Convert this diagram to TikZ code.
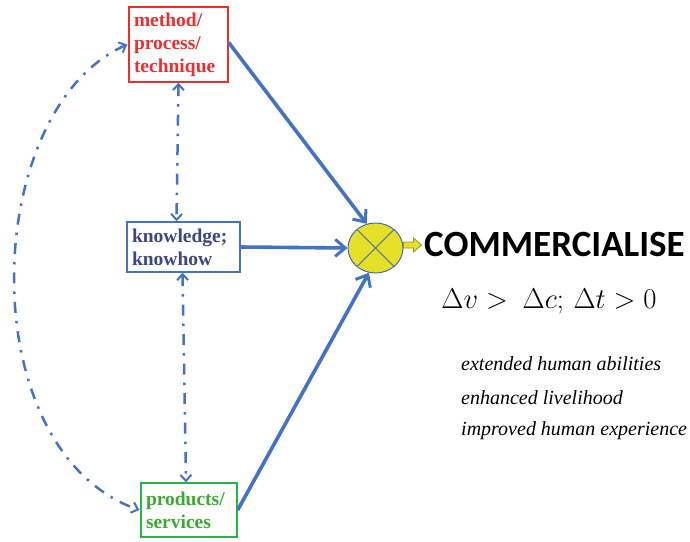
\documentclass[tikz,border=0pt]{standalone}
\usepackage{fontspec}
\setmainfont{Liberation Serif}
\newfontfamily\headfont{Carlito}
\usetikzlibrary{arrows.meta,shapes.geometric,calc}
\definecolor{linkblue}{RGB}{68,114,196}
\definecolor{boxred}{RGB}{232,48,48}
\definecolor{boxgreen}{RGB}{40,180,70}
\definecolor{textgreen}{RGB}{60,170,50}
\definecolor{textblue}{RGB}{60,70,130}
\definecolor{ballyellow}{RGB}{230,225,40}
\definecolor{ballline}{RGB}{70,110,170}
\definecolor{arrowline}{RGB}{150,150,30}
\begin{document}
\begin{tikzpicture}[x=1pt,y=-1pt,
  item/.style={draw,line width=1.4pt,align=left,font=\bfseries\fontsize{19.5}{23}\selectfont,inner xsep=5pt,inner ysep=3pt},
  flow/.style={linkblue,line width=3.6pt,-{Straight Barb[length=10pt,width=17pt,line width=3pt]}},
  link/.style={linkblue,line width=2.5pt,dash pattern=on 11pt off 8pt on 2.5pt off 8pt,
    {Straight Barb[length=6pt,width=11pt,line width=2pt]}-{Straight Barb[length=6pt,width=11pt,line width=2pt]}},
  outcome/.style={font=\itshape\fontsize{20}{22}\selectfont,anchor=west,inner sep=0pt}]
\useasboundingbox (0,0) rectangle (690,541);

% the three sources
\node[item,draw=boxred,text=boxred,text width=89pt,minimum height=75pt] (m) at (178.5,44.5)
  {method/\\process/\\technique};
\node[item,draw=linkblue,text=textblue,text width=103pt,minimum height=50pt] (k) at (183.5,247)
  {knowledge;\\knowhow};
\node[item,draw=boxgreen,text=textgreen,text width=86pt,minimum height=54pt] (p) at (189,510)
  {products/\\services};

% combining junction
\node[ellipse,draw=ballline,fill=ballyellow,line width=1pt,minimum width=55pt,minimum height=50pt,inner sep=0pt] (c) at (375.5,248) {};
\draw[ballline,line width=0.8pt] (c.135) -- (c.-45) (c.45) -- (c.-135);

% small block arrow to the result
\coordinate (a0) at ($(c.east)+(0,-3)$);
\draw[arrowline,fill=ballyellow,line width=0.8pt]
  (a0) ++(0,-3) -- ++(10,0) -- ++(0,-4) -- ++(8,7) -- ++(-8,7) -- ++(0,-4) -- ++(-10,0) -- cycle;
\node[font=\headfont\bfseries\fontsize{37}{40}\selectfont,anchor=west,inner sep=0pt] (r) at (424,244) {COMMERCIALISE};

\node[font=\fontsize{24}{28}\selectfont,inner sep=0pt] (q) at (549,302)
  {\scalebox{1.15}{$\Delta v >\ \Delta c;\, \Delta t > 0$}};

\node[outcome] (o1) at (461,364) {extended human abilities};
\node[outcome] (o2) at (461,398) {enhanced livelihood};
\node[outcome] (o3) at (461,431) {improved human experience};

% solid flows into the junction
\draw[flow] ($(m.east)+(0,-2)$) -- (c.110);
\draw[flow] (k.east) -- (c.west);
\draw[flow] (p.east) -- (c.-105);

% dash-dot links between the sources
\draw[link] (k.north-|m.south) ++(-2,0) coordinate (k1) (m.south) -- (k1);
\draw[link] ($(k.south)+(-1,0)$) -- ($(p.north)+(-3,0)$);
\draw[link] ($(m.west)+(-1,0)$) .. controls (-20,110) and (-30,450) .. ($(p.west)+(-1,0)$);
\end{tikzpicture}
\end{document}
